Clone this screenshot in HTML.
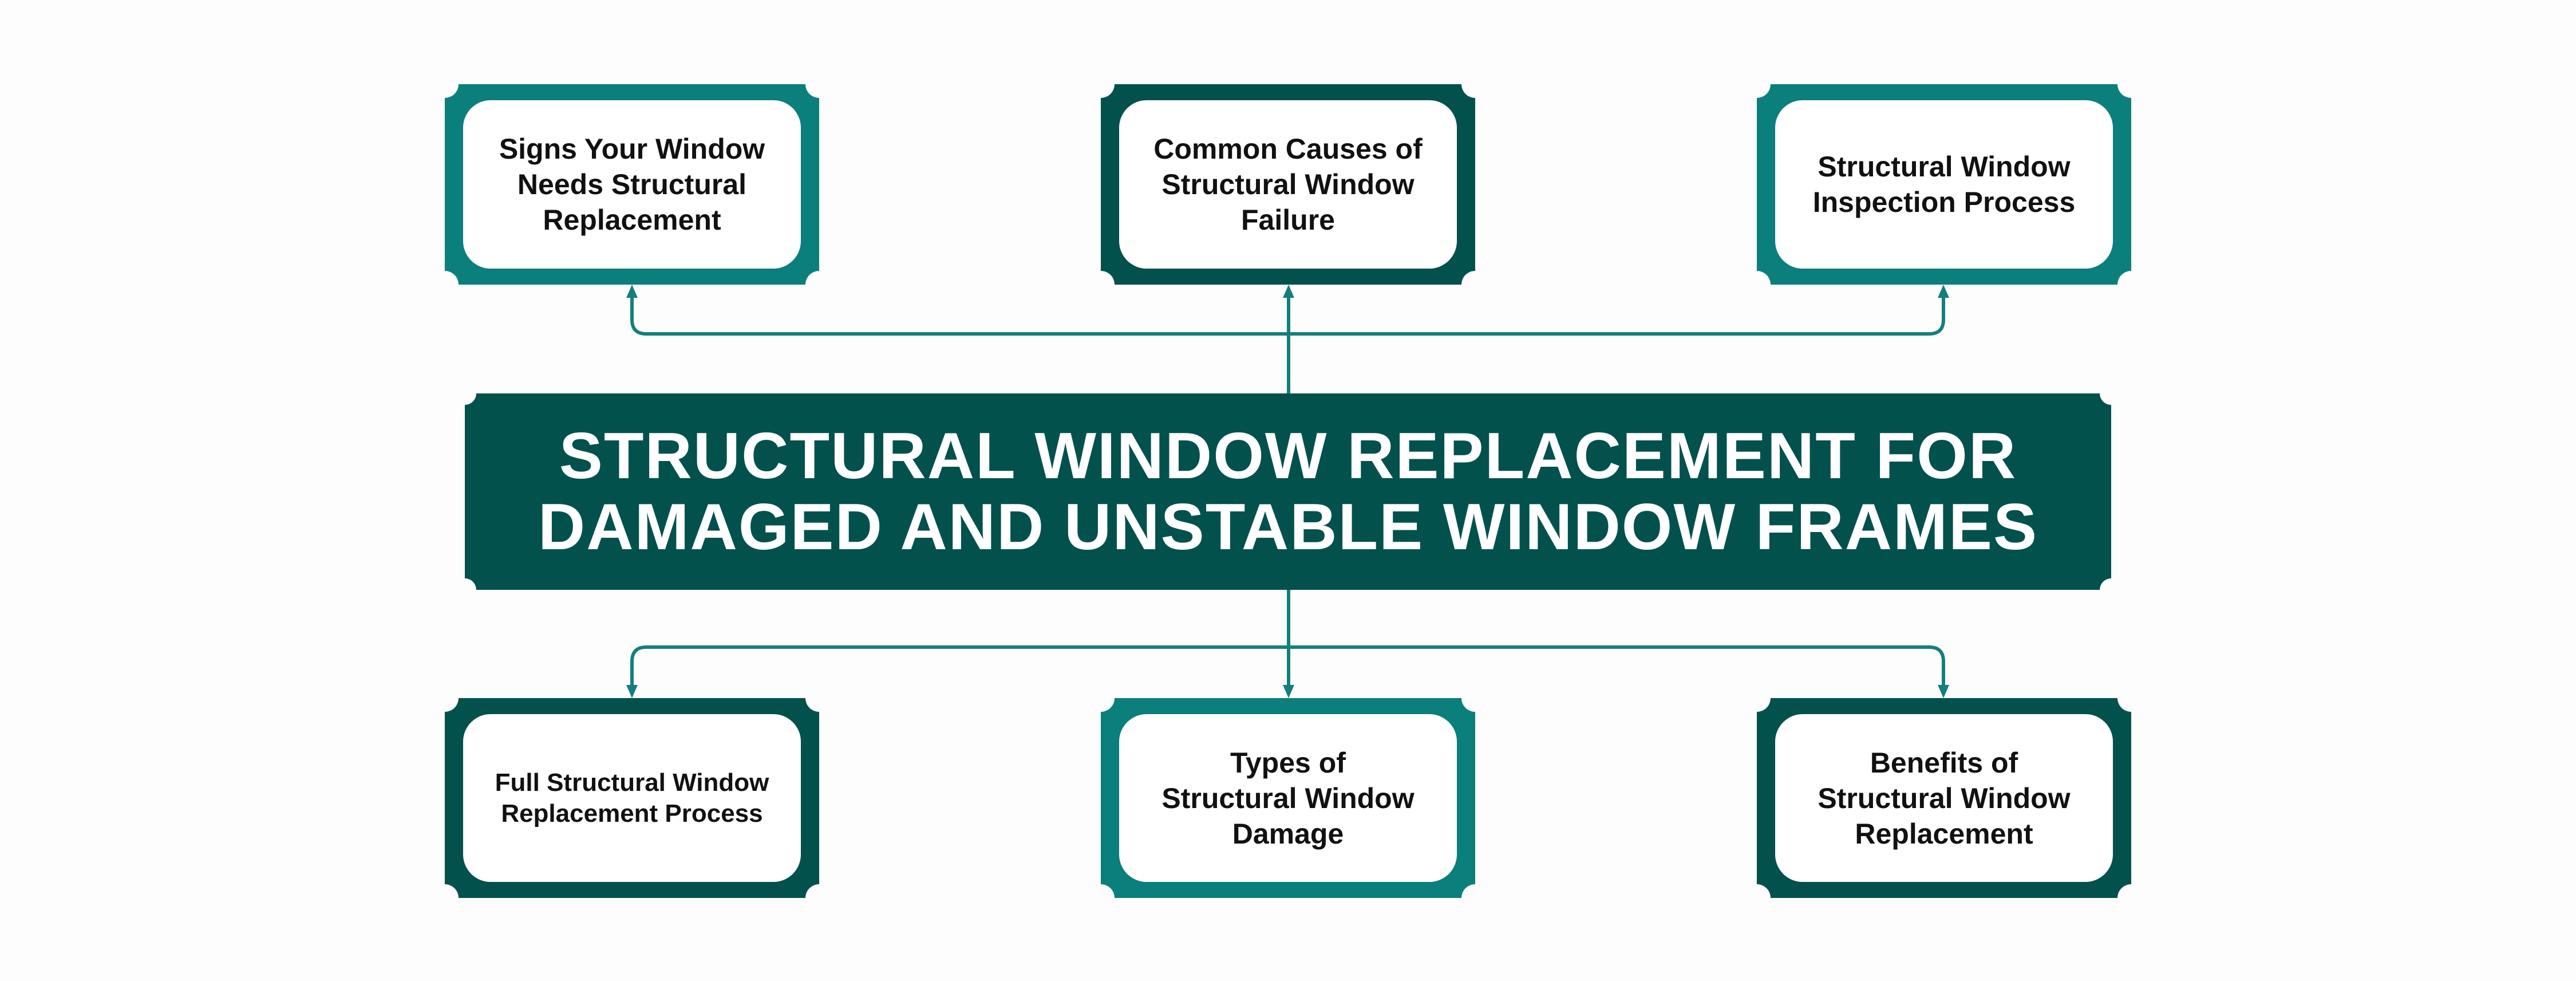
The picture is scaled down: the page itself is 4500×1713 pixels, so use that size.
<!DOCTYPE html>
<html><head><meta charset="utf-8"><style>
html,body{margin:0;padding:0;background:#fdfdfd;}
body{width:4500px;height:1713px;position:relative;overflow:hidden;font-family:"Liberation Sans",sans-serif;}
svg{position:absolute;left:0;top:0;}
.t{position:absolute;display:flex;align-items:center;justify-content:center;text-align:center;font-weight:bold;color:#111;font-size:50px;line-height:62px;}
.c{position:absolute;left:812px;top:687px;width:2876px;height:343px;display:flex;align-items:center;justify-content:center;text-align:center;color:#fff;font-weight:bold;font-size:114px;line-height:124px;letter-spacing:2px;}
</style></head><body>
<svg width="4500" height="1713" viewBox="0 0 4500 1713">
<g fill="none" stroke="#137f7d" stroke-width="6">
<path d="M1104 520 V558 Q1104 583 1129 583 H3370 Q3395 583 3395 558 V520"/>
<path d="M2251 520 V687"/>
<path d="M2251 1030 V1196"/>
<path d="M1104 1196 V1155 Q1104 1130 1129 1130 H3370 Q3395 1130 3395 1155 V1196"/>
</g>
<g fill="#137f7d">
<polygon points="1104,497 1094,520 1114,520"/>
<polygon points="2251,497 2241,520 2261,520"/>
<polygon points="3395,497 3385,520 3405,520"/>
<polygon points="1104,1219 1094,1196 1114,1196"/>
<polygon points="2251,1219 2241,1196 2261,1196"/>
<polygon points="3395,1219 3385,1196 3405,1196"/>
</g>
<rect x="812" y="687" width="2876" height="343" fill="#03514d"/>
<g fill="#fdfdfd"><circle cx="812" cy="687" r="20"/><circle cx="3688" cy="687" r="20"/><circle cx="812" cy="1030" r="20"/><circle cx="3688" cy="1030" r="20"/></g>
<rect x="777" y="147" width="654" height="350" fill="#0a7f7b"/>
<rect x="1923" y="147" width="654" height="350" fill="#03514d"/>
<rect x="3069" y="147" width="654" height="350" fill="#0a7f7b"/>
<rect x="777" y="1219" width="654" height="349" fill="#03514d"/>
<rect x="1923" y="1219" width="654" height="349" fill="#0a7f7b"/>
<rect x="3069" y="1219" width="654" height="349" fill="#03514d"/>
<g fill="#fdfdfd">
<circle cx="777" cy="147" r="24"/><circle cx="1431" cy="147" r="24"/><circle cx="777" cy="497" r="24"/><circle cx="1431" cy="497" r="24"/>
<circle cx="1923" cy="147" r="24"/><circle cx="2577" cy="147" r="24"/><circle cx="1923" cy="497" r="24"/><circle cx="2577" cy="497" r="24"/>
<circle cx="3069" cy="147" r="24"/><circle cx="3723" cy="147" r="24"/><circle cx="3069" cy="497" r="24"/><circle cx="3723" cy="497" r="24"/>
<circle cx="777" cy="1219" r="24"/><circle cx="1431" cy="1219" r="24"/><circle cx="777" cy="1568" r="24"/><circle cx="1431" cy="1568" r="24"/>
<circle cx="1923" cy="1219" r="24"/><circle cx="2577" cy="1219" r="24"/><circle cx="1923" cy="1568" r="24"/><circle cx="2577" cy="1568" r="24"/>
<circle cx="3069" cy="1219" r="24"/><circle cx="3723" cy="1219" r="24"/><circle cx="3069" cy="1568" r="24"/><circle cx="3723" cy="1568" r="24"/>
</g>
<g fill="#ffffff">
<rect x="809" y="175" width="590" height="294" rx="48"/>
<rect x="1955" y="175" width="590" height="294" rx="48"/>
<rect x="3101" y="175" width="590" height="294" rx="48"/>
<rect x="809" y="1247" width="590" height="293" rx="48"/>
<rect x="1955" y="1247" width="590" height="293" rx="48"/>
<rect x="3101" y="1247" width="590" height="293" rx="48"/>
</g>
</svg>
<div class="t" style="left:809px;top:175px;width:590px;height:294px;">Signs Your Window<br>Needs Structural<br>Replacement</div>
<div class="t" style="left:1955px;top:175px;width:590px;height:294px;">Common Causes of<br>Structural Window<br>Failure</div>
<div class="t" style="left:3101px;top:175px;width:590px;height:294px;">Structural Window<br>Inspection Process</div>
<div class="t" style="left:809px;top:1247px;width:590px;height:293px;font-size:44px;line-height:54px;">Full Structural Window<br>Replacement Process</div>
<div class="t" style="left:1955px;top:1247px;width:590px;height:293px;">Types of<br>Structural Window<br>Damage</div>
<div class="t" style="left:3101px;top:1247px;width:590px;height:293px;">Benefits of<br>Structural Window<br>Replacement</div>
<div class="c">STRUCTURAL WINDOW REPLACEMENT FOR<br>DAMAGED AND UNSTABLE WINDOW FRAMES</div>
</body></html>
